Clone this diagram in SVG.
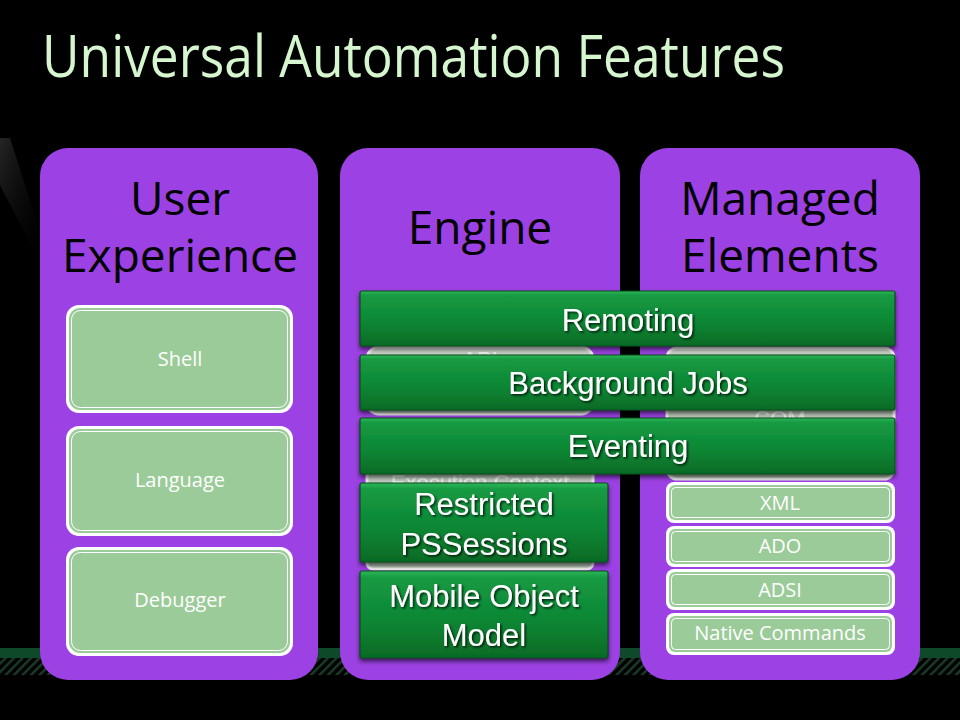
<svg xmlns="http://www.w3.org/2000/svg" width="960" height="720" viewBox="0 0 960 720">
  <defs>
    <linearGradient id="barGrad" x1="0" y1="0" x2="0" y2="1">
      <stop offset="0" stop-color="#2db65a"/>
      <stop offset="0.08" stop-color="#169a42"/>
      <stop offset="0.6" stop-color="#0c8533"/>
      <stop offset="1" stop-color="#066a26"/>
    </linearGradient>
    <linearGradient id="glow" x1="0" y1="0" x2="1" y2="1">
      <stop offset="0" stop-color="#2e2e2e" stop-opacity="0.8"/>
      <stop offset="1" stop-color="#000" stop-opacity="0"/>
    </linearGradient>
    <linearGradient id="hidGrad" x1="0" y1="0" x2="0" y2="1">
      <stop offset="0" stop-color="#c9d1c7"/>
      <stop offset="1" stop-color="#b3c1b1"/>
    </linearGradient>
    <pattern id="hatch" width="6" height="6" patternUnits="userSpaceOnUse" patternTransform="rotate(45)">
      <rect width="6" height="6" fill="#000"/>
      <rect width="2.5" height="6" fill="#1c3a28"/>
    </pattern>
    <filter id="shadow" x="-10%" y="-10%" width="120%" height="140%">
      <feDropShadow dx="0" dy="3" stdDeviation="2" flood-color="#000" flood-opacity="0.6"/>
    </filter>
    <filter id="txtShadow" x="-10%" y="-20%" width="120%" height="150%">
      <feDropShadow dx="1.5" dy="1.5" stdDeviation="0.8" flood-color="#000" flood-opacity="0.8"/>
    </filter>
  </defs>
  <style>
    .col { fill: #9c41e3; }
    .colTitle { font-family: "Open Sans", "Noto Sans", sans-serif; font-size: 46px; fill: #000; text-anchor: middle; }
    .boxOuter { fill: #ffffff; }
    .boxInner { fill: #9bcb98; }
    .boxLine { fill: none; stroke: #ffffff; stroke-width: 1; }
    .boxText { font-family: "Open Sans", "Noto Sans", sans-serif; font-size: 20px; fill: #ffffff; text-anchor: middle; }
    .hid { fill: url(#hidGrad); stroke: #ececec; stroke-width: 3; }
    .hidText { font-family: "Liberation Sans", Arial, sans-serif; font-size: 22px; fill: #eef2ee; text-anchor: middle; }
    .bar { fill: url(#barGrad); stroke: #0a4a1c; stroke-width: 1.2; }
    .barText { font-family: "Liberation Sans", Arial, sans-serif; font-size: 31px; fill: #ffffff; text-anchor: middle; }
  </style>

  <rect width="960" height="720" fill="#000"/>
  <polygon points="0,138 10,138 46,250 40,262 0,185" fill="url(#glow)"/>
  <rect x="0" y="648" width="960" height="10" fill="#0e4a2a"/>
  <rect x="0" y="658" width="960" height="17" fill="url(#hatch)"/>

  <text x="42" y="77" font-family="Open Sans, Noto Sans, sans-serif" font-size="58" fill="#d5f6cf" textLength="743" lengthAdjust="spacingAndGlyphs">Universal Automation Features</text>

  <!-- Column 1: User Experience -->
  <g id="col-user-experience">
    <rect class="col" x="40" y="148" width="278" height="532" rx="28"/>
    <text class="colTitle" x="180" y="215">User</text>
    <text class="colTitle" x="180" y="272">Experience</text>
  </g>
  <g id="node-shell">
    <rect class="boxOuter" x="66" y="305" width="227" height="108" rx="13"/>
    <rect class="boxInner" x="69" y="308" width="221" height="102" rx="11"/>
    <rect class="boxLine" x="71.5" y="310.5" width="216" height="97" rx="9"/>
    <text class="boxText" x="180" y="366">Shell</text>
  </g>
  <g id="node-language">
    <rect class="boxOuter" x="66" y="426" width="227" height="110" rx="13"/>
    <rect class="boxInner" x="69" y="429" width="221" height="104" rx="11"/>
    <rect class="boxLine" x="71.5" y="431.5" width="216" height="99" rx="9"/>
    <text class="boxText" x="180" y="487">Language</text>
  </g>
  <g id="node-debugger">
    <rect class="boxOuter" x="66" y="547" width="227" height="109" rx="13"/>
    <rect class="boxInner" x="69" y="550" width="221" height="103" rx="11"/>
    <rect class="boxLine" x="71.5" y="552.5" width="216" height="98" rx="9"/>
    <text class="boxText" x="180" y="607">Debugger</text>
  </g>

  <!-- Column 2: Engine -->
  <g id="col-engine">
    <rect class="col" x="340" y="148" width="280" height="532" rx="28"/>
    <text class="colTitle" x="480" y="244">Engine</text>
  </g>
  <g id="node-api">
    <rect class="hid" x="367" y="347" width="226" height="67" rx="12"/>
    <text class="hidText" x="480" y="367">API</text>
  </g>
  <g id="node-execution-context">
    <rect class="hid" x="367" y="421" width="226" height="148" rx="6"/>
    <text class="hidText" x="480" y="490">Execution Context</text>
  </g>

  <!-- Column 3: Managed Elements -->
  <g id="col-managed-elements">
    <rect class="col" x="640" y="148" width="280" height="532" rx="28"/>
    <text class="colTitle" x="780" y="215">Managed</text>
    <text class="colTitle" x="780" y="272">Elements</text>
  </g>
  <g id="node-com">
    <rect class="hid" x="667" y="348" width="227" height="131" rx="10"/>
    <text class="hidText" x="780" y="426">COM</text>
  </g>
  <g id="node-xml">
    <rect class="boxOuter" x="666" y="482" width="229" height="41" rx="8"/>
    <rect class="boxInner" x="669" y="485" width="223" height="35" rx="6"/>
    <rect class="boxLine" x="671.5" y="487.5" width="218" height="30" rx="4"/>
    <text class="boxText" x="780" y="510">XML</text>
  </g>
  <g id="node-ado">
    <rect class="boxOuter" x="666" y="526" width="229" height="41" rx="8"/>
    <rect class="boxInner" x="669" y="529" width="223" height="35" rx="6"/>
    <rect class="boxLine" x="671.5" y="531.5" width="218" height="30" rx="4"/>
    <text class="boxText" x="780" y="553">ADO</text>
  </g>
  <g id="node-adsi">
    <rect class="boxOuter" x="666" y="569" width="229" height="41" rx="8"/>
    <rect class="boxInner" x="669" y="572" width="223" height="35" rx="6"/>
    <rect class="boxLine" x="671.5" y="574.5" width="218" height="30" rx="4"/>
    <text class="boxText" x="780" y="597">ADSI</text>
  </g>
  <g id="node-native-commands">
    <rect class="boxOuter" x="666" y="613" width="229" height="42" rx="8"/>
    <rect class="boxInner" x="669" y="616" width="223" height="36" rx="6"/>
    <rect class="boxLine" x="671.5" y="618.5" width="218" height="31" rx="4"/>
    <text class="boxText" x="780" y="640">Native Commands</text>
  </g>

  <!-- Overlay feature bars -->
  <g id="node-remoting">
    <rect class="bar" x="360" y="291" width="535" height="55" rx="2" filter="url(#shadow)"/>
    <text class="barText" x="628" y="331" filter="url(#txtShadow)">Remoting</text>
  </g>
  <g id="node-background-jobs">
    <rect class="bar" x="360" y="355" width="535" height="55" rx="2" filter="url(#shadow)"/>
    <text class="barText" x="628" y="394" filter="url(#txtShadow)">Background Jobs</text>
  </g>
  <g id="node-eventing">
    <rect class="bar" x="360" y="418" width="535" height="56" rx="2" filter="url(#shadow)"/>
    <text class="barText" x="628" y="457" filter="url(#txtShadow)">Eventing</text>
  </g>
  <g id="node-restricted-pssessions">
    <rect class="bar" x="360" y="483" width="248" height="79" rx="2" filter="url(#shadow)"/>
    <text class="barText" x="484" y="515" filter="url(#txtShadow)">Restricted</text>
    <text class="barText" x="484" y="555" filter="url(#txtShadow)">PSSessions</text>
  </g>
  <g id="node-mobile-object-model">
    <rect class="bar" x="360" y="571" width="248" height="87" rx="2" filter="url(#shadow)"/>
    <text class="barText" x="484" y="607" filter="url(#txtShadow)">Mobile Object</text>
    <text class="barText" x="484" y="646" filter="url(#txtShadow)">Model</text>
  </g>

  <g id="connectors"/>
</svg>
